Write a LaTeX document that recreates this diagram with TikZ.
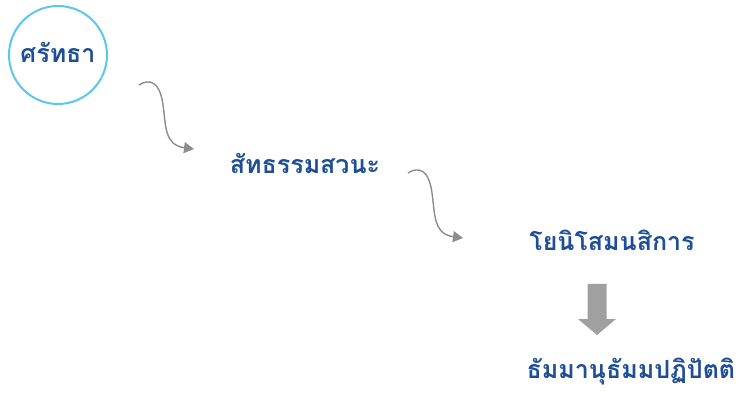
\documentclass[tikz,border=0pt]{standalone}
\usepackage{fontspec}
\newfontfamily\thaifont[Script=Thai]{Loma}
\usetikzlibrary{arrows.meta}
\definecolor{txtblue}{RGB}{30,78,150}
\definecolor{ringcyan}{RGB}{90,200,232}
\definecolor{arrgray}{RGB}{140,140,140}
\definecolor{blockgray}{RGB}{160,160,160}
\tikzset{
  x=1pt, y=-1pt,
  label text/.style={font=\thaifont\bfseries\fontsize{25}{28}\selectfont, text=txtblue, inner sep=0pt},
  curvy/.style={draw=arrgray, line width=1.4pt, -{Triangle[length=10pt,width=11pt]}},
  blockarrow/.style={fill=blockgray, draw=none},
}
\begin{document}
\begin{tikzpicture}
\useasboundingbox (0,0) rectangle (740,393);
\node[circle, draw=ringcyan, line width=2pt, minimum size=98pt, inner sep=0pt] (c) at (58,55) {};
\node[label text] (t1) at (58,52) {ศรัทธา};
\node[label text] (t2) at (305,163) {สัทธรรมสวนะ};
\node[label text] (t3) at (612,240) {โยนิโสมนสิการ};
\node[label text] (t4) at (631,372) {ธัมมานุธัมมปฏิปัตติ};
\coordinate (a1s) at (139,85);
\coordinate (a1e) at (194,149);
\coordinate (a2s) at (408,173);
\coordinate (a2e) at (463,238);
\draw[curvy] (a1s) .. controls (150,78) and (160,82) .. (163,105)
  .. controls (166,125) and (164,145) .. (a1e);
\draw[curvy] (a2s) .. controls (419,166) and (429,170) .. (432,193)
  .. controls (435,213) and (433,234) .. (a2e);
\coordinate (ba) at (597,284);
\fill[blockarrow] (ba) ++(-9.5,0) -- ++(0,35) -- ++(-9.5,0) -- (597,335)
  -- (616,319) -- (606.5,319) -- (606.5,284) -- cycle;
\end{tikzpicture}
\end{document}
